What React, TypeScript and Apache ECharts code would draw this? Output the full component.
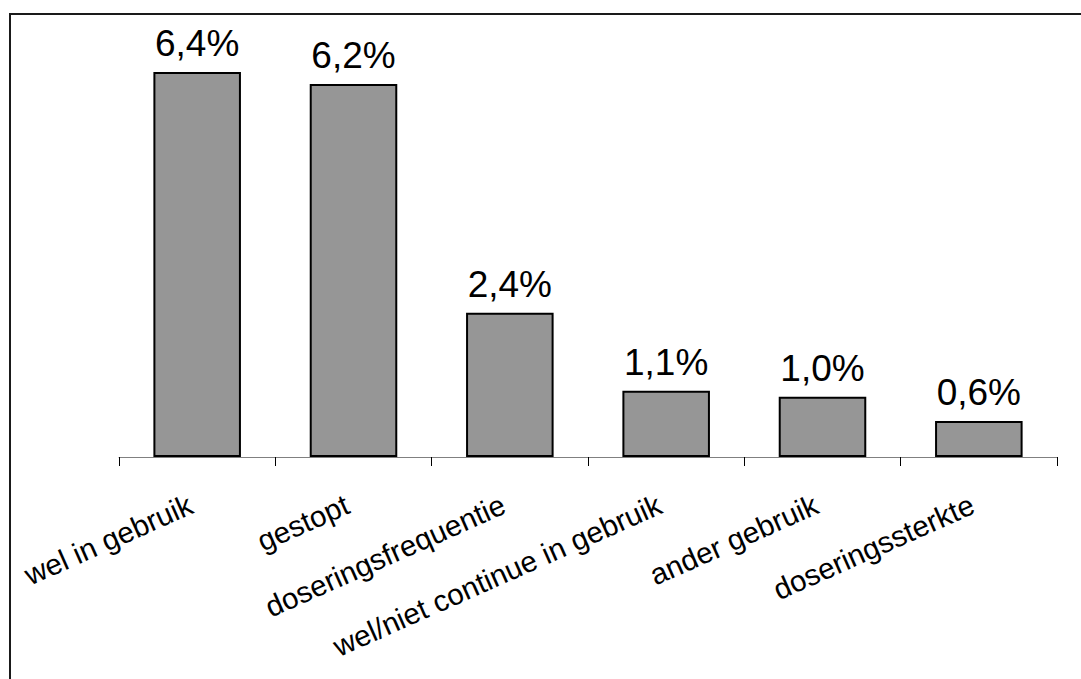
import React, { useEffect, useRef } from "react";
import * as echarts from "echarts";

const categories = [
  "wel in gebruik",
  "gestopt",
  "doseringsfrequentie",
  "wel/niet continue in gebruik",
  "ander gebruik",
  "doseringssterkte",
];
const values = [6.4, 6.2, 2.4, 1.1, 1.0, 0.6];

export default function App() {
  const ref = useRef<HTMLDivElement>(null);
  useEffect(() => {
    if (!ref.current) return;
    const chart = echarts.init(ref.current, null, { renderer: "svg" });
    chart.setOption({
      animation: false,
      backgroundColor: "#ffffff",
      textStyle: { fontFamily: "Liberation Sans, Arial, sans-serif" },
      grid: { left: 119, right: 24, top: 36, bottom: 222 },
      xAxis: {
        type: "category",
        data: categories,
        axisLine: { lineStyle: { color: "#808080", width: 1 } },
        axisTick: { show: true, length: 9, lineStyle: { color: "#000000" } },
        axisLabel: {
          rotate: 24,
          interval: 0,
          margin: 43,
          padding: [0, 7, 0, 0],
          color: "#000000",
          fontSize: 29.5,
          fontFamily: "Liberation Sans, Arial, sans-serif",
        },
      },
      yAxis: {
        type: "value",
        min: 0,
        max: 7,
        show: false,
        splitLine: { show: false },
      },
      series: [
        {
          type: "bar",
          data: values,
          barWidth: "56%",
          itemStyle: { color: "#969696", borderColor: "#000000", borderWidth: 2 },
          label: {
            show: true,
            position: "top",
            distance: 10,
            color: "#000000",
            fontSize: 37,
            fontFamily: "Liberation Sans, Arial, sans-serif",
            formatter: (p: any) => p.value.toFixed(1).replace(".", ",") + "%",
          },
        },
      ],
      graphic: [
        {
          type: "line",
          shape: { x1: 9, y1: 14, x2: 1081, y2: 14 },
          style: { stroke: "#1a1a1a", lineWidth: 2 },
          silent: true,
        },
        {
          type: "line",
          shape: { x1: 10, y1: 14, x2: 10, y2: 679 },
          style: { stroke: "#1a1a1a", lineWidth: 2 },
          silent: true,
        },
      ],
    });
    return () => chart.dispose();
  }, []);
  return (
    <div
      ref={ref}
      style={{ position: "absolute", left: 0, top: 0, width: 1081, height: 679 }}
    />
  );
}
